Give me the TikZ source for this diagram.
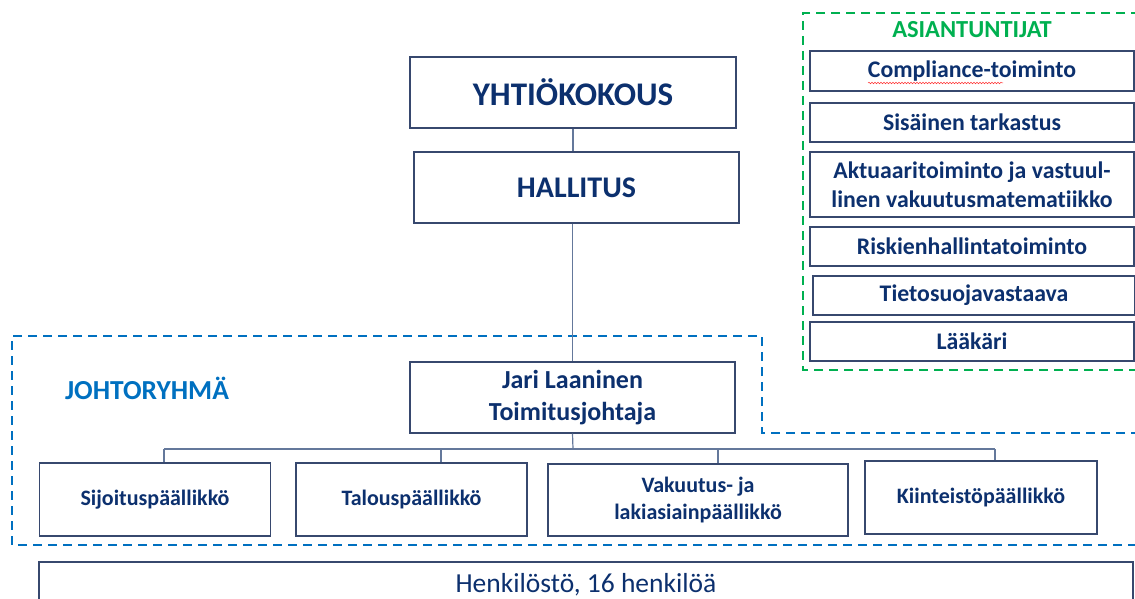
\documentclass[tikz,border=0pt]{standalone}
\usepackage{fontspec}
\setmainfont[Ligatures=NoCommon]{Carlito}
\usepackage{xcolor}
\usepackage{tikz}
\usetikzlibrary{calc, positioning, decorations.pathmorphing}

\definecolor{navy}{RGB}{12,48,110}
\definecolor{boxline}{RGB}{55,72,110}
\definecolor{linkline}{RGB}{100,120,155}
\definecolor{johtoblue}{RGB}{0,112,192}
\definecolor{asiagreen}{RGB}{0,176,80}

\tikzset{
    orgbox/.style={draw=boxline, line width=1.2pt, fill=white, text=navy,
        align=center, inner sep=0pt},
    link/.style={draw=linkline, line width=1.2pt},
    groupline/.style={line width=2pt, dash pattern=on 9pt off 6pt},
    squiggle/.style={red!80, line width=0.5pt,
        decorate, decoration={snake, segment length=3pt, amplitude=0.8pt}},
}

\begin{document}
\begin{tikzpicture}[x=1pt, y=-1pt]
    \useasboundingbox (0,0) rectangle (1135,599);

    % 1. Ryhmien katkoviivat
    \draw[groupline, asiagreen] (1140,13) -- (803,13) -- (803,370) -- (1140,370);
    \draw[groupline, johtoblue] (1140,433) -- (762,433) -- (762,336) -- (12,336)
        -- (12,545) -- (1140,545);
    \node[text=johtoblue, font={\fontsize{27.5}{32}\selectfont\bfseries}] (johto) at (147,388) {JOHTORYHMÄ};
    \node[text=asiagreen, font={\fontsize{24.5}{28}\selectfont\bfseries}] (asia) at (972,30) {ASIANTUNTIJAT};

    % 2. Ylin johto
    \node[orgbox, minimum width=326pt, minimum height=71pt,
        font={\fontsize{33}{40}\selectfont\bfseries}] (yhtio) at (573,92.5) {YHTIÖKOKOUS};
    \node[orgbox, minimum width=325pt, minimum height=71pt,
        font={\fontsize{30}{36}\selectfont\bfseries}] (hallitus) at (576.5,187.5) {HALLITUS};
    \node[orgbox, minimum width=325pt, minimum height=71pt,
        font={\fontsize{26}{32}\selectfont\bfseries}] (jari) at (572.5,397.5) {Jari Laaninen\\Toimitusjohtaja};

    \draw[link] (yhtio.south) -- (yhtio.south |- hallitus.north);
    \draw[link] (jari.north |- hallitus.south) -- (jari.north);

    % 3. Johtoryhmän päälliköt
    \begin{scope}[every node/.style={orgbox, minimum height=73pt,
        font={\fontsize{22}{27}\selectfont\bfseries}}]
        \node[minimum width=231pt] (sijoitus) at (155,499.5) {Sijoituspäällikkö};
        \node[minimum width=231pt] (talous) at (411.5,499.5) {Talouspäällikkö};
        \node[minimum width=300pt, minimum height=72pt] (vakuutus) at (698,500) {Vakuutus- ja\\lakiasiainpäällikkö};
        \node[minimum width=232pt] (kiinteisto) at (981,497.5) {Kiinteistöpäällikkö};
    \end{scope}

    \coordinate (bus) at (573,449);
    \draw[link] (jari.south) -- (bus);
    \foreach \x/\n in {164/sijoitus, 441/talous, 718/vakuutus, 995/kiinteisto} {
        \coordinate (d\n) at (\x,449);
        \draw[link] (d\n) -- (d\n |- \n.north);
    }
    \draw[link] (dsijoitus) -- (dkiinteisto);

    % 4. Henkilöstö
    \node[orgbox, minimum width=1094pt, minimum height=46pt,
        font={\fontsize{27.5}{32}\selectfont}] (henkilosto) at (586,585) {Henkilöstö, 16 henkilöä};

    % 5. Asiantuntijat
    \begin{scope}[every node/.style={orgbox, minimum width=324pt, minimum height=39pt,
        font={\fontsize{23.8}{28.5}\selectfont\bfseries}}]
        \node[minimum height=40pt] (compliance) at (972,71) {Compliance-toiminto};
        \node (sisainen) at (972,122.5) {Sisäinen tarkastus};
        \node[minimum height=65pt] (aktuaari) at (972,184.5) {Aktuaaritoiminto ja vastuul-\\linen vakuutusmatematiikko};
        \node (riskit) at (972,246.5) {Riskienhallintatoiminto};
        \node[minimum width=322pt] (tieto) at (974,295.5) {Tietosuojavastaava};
        \node (laakari) at (972,341.5) {Lääkäri};
    \end{scope}
    \draw[squiggle] (868,83) -- (1003,83);
\end{tikzpicture}
\end{document}
